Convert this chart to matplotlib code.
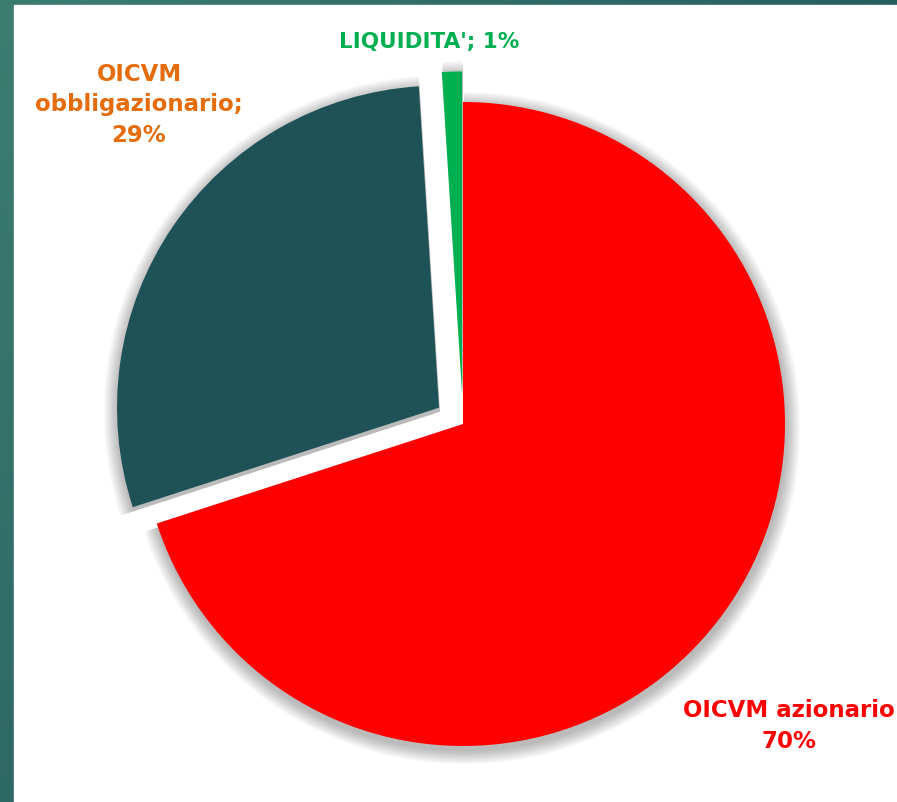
import matplotlib
matplotlib.use("Agg")
import matplotlib.pyplot as plt
import numpy as np

# dati della torta
categorie = ["OICVM azionario", "OICVM obbligazionario", "LIQUIDITA'"]
valori = [70, 29, 1]
colori = ["#FF0000", "#1F5257", "#00B050"]
colori_etichette = ["#FF0000", "#E46C0A", "#00B050"]
etichette = ["OICVM azionario\n70%", "OICVM\nobbligazionario;\n29%", "LIQUIDITA'; 1%"]
esplodi = [0.0, 0.09, 0.095]  # frazione del raggio

W, H = 897, 803
fig = plt.figure(figsize=(W / 100, H / 100), dpi=100)

# sfondo con bordo sfumato verde-petrolio
bg = fig.add_axes([0, 0, 1, 1])
bg.set_axis_off()
gx, gy = np.meshgrid(np.linspace(0, 1, 200), np.linspace(0, 1, 200))
grad = 0.6 * gx + 0.4 * (1 - gy)
cmap = matplotlib.colors.LinearSegmentedColormap.from_list("bordo", ["#3D7D70", "#2A6462", "#184652"])
bg.imshow(grad, cmap=cmap, extent=[0, W, 0, H], aspect="auto", origin="lower")
bg.add_patch(plt.Rectangle((14, 0), W - 14, H - 6, color="white", zorder=2))
bg.set_xlim(0, W)
bg.set_ylim(0, H)

ax = fig.add_axes([0, 0, 1, 1])
ax.set_axis_off()
ax.patch.set_alpha(0)
cx, cy, r = 463, H - 425, 322
# in pie() explode e' in unita' dati, quindi va scalato col raggio
expl_px = [e * r for e in esplodi]

# ombra morbida
for k in range(12, 0, -1):
    ax.pie(valori, colors=["black"] * 3, startangle=90, counterclock=False,
           explode=expl_px, radius=r + k * 1.2, center=(cx + 1, cy - 4),
           wedgeprops=dict(alpha=0.025, linewidth=0), frame=False)

ax.pie(valori, colors=colori, startangle=90, counterclock=False,
       explode=expl_px, radius=r, center=(cx, cy),
       wedgeprops=dict(linewidth=0), frame=False)

pos = [(789, H - 726), (139, H - 105), (429, H - 42)]
dimensioni = [16.5, 16.5, 15.5]
for testo, (x, y), c, fs in zip(etichette, pos, colori_etichette, dimensioni):
    ax.text(x, y, testo, color=c, fontsize=fs, fontweight="bold", ha="center",
            va="center", family="DejaVu Sans", linespacing=1.4)

ax.set_xlim(0, W)
ax.set_ylim(0, H)
ax.set_aspect("auto")
fig.savefig("out.png", dpi=100)
